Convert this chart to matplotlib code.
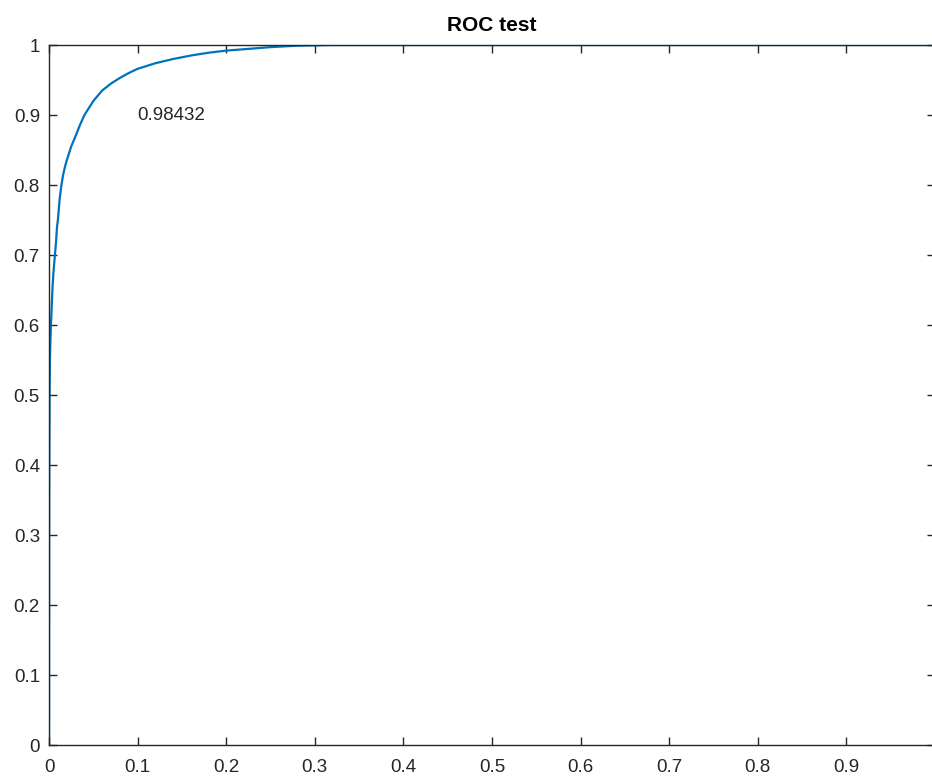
import matplotlib
matplotlib.use('Agg')
import matplotlib.pyplot as plt

# ROC curve points
fpr = [0, 0.0002, 0.0006, 0.001, 0.0015, 0.002, 0.003, 0.004, 0.005, 0.006,
       0.007, 0.008, 0.009, 0.01, 0.012, 0.014, 0.016, 0.018, 0.02, 0.025,
       0.03, 0.035, 0.04, 0.05, 0.06, 0.07, 0.08, 0.09, 0.10, 0.11, 0.12,
       0.13, 0.14, 0.16, 0.18, 0.2, 0.22, 0.25, 0.28, 0.32, 0.4, 1]
tpr = [0, 0.35, 0.5, 0.55, 0.575, 0.595, 0.625, 0.655, 0.675, 0.69,
       0.705, 0.72, 0.74, 0.75, 0.78, 0.80, 0.815, 0.826, 0.835, 0.855,
       0.87, 0.886, 0.90, 0.92, 0.935, 0.945, 0.953, 0.96, 0.966, 0.97, 0.974,
       0.977, 0.98, 0.985, 0.989, 0.992, 0.994, 0.997, 0.999, 1, 1, 1]
auc_text = '0.98432'

ticks = [0, 0.1, 0.2, 0.3, 0.4, 0.5, 0.6, 0.7, 0.8, 0.9, 1]
y_labels = ['0', '0.1', '0.2', '0.3', '0.4', '0.5', '0.6', '0.7', '0.8', '0.9', '1']
# the "1" on the x axis falls outside the cropped picture
x_labels = ['0', '0.1', '0.2', '0.3', '0.4', '0.5', '0.6', '0.7', '0.8', '0.9', '']

plt.rcParams['font.family'] = ['Liberation Sans', 'DejaVu Sans']

fig = plt.figure(figsize=(9.32, 7.79), dpi=100)
# axes runs slightly past the right edge, like the cropped original
ax = fig.add_axes([0.0526, 0.0436, 0.9505, 0.8986])

ax.plot(fpr, tpr, color='#0072BD', linewidth=1.6)
ax.text(0.1, 0.9, auc_text, fontsize=13.5, color='#262626', va='center', ha='left')

ax.set_xlim(0, 1)
ax.set_ylim(0, 1)
ax.set_xticks(ticks)
ax.set_xticklabels(x_labels)
ax.set_yticks(ticks)
ax.set_yticklabels(y_labels)
ax.tick_params(direction='in', length=6, width=1, top=True, right=True,
               labelsize=13.5, labelcolor='#262626', color='#262626')
ax.tick_params(axis='x', pad=10)
ax.tick_params(axis='y', pad=6.5)
for s in ax.spines.values():
    s.set_linewidth(1)
    s.set_color('#262626')

ax.set_title('ROC test', fontsize=15, fontweight='bold', color='black', pad=10)

fig.savefig('out.png', dpi=100)
